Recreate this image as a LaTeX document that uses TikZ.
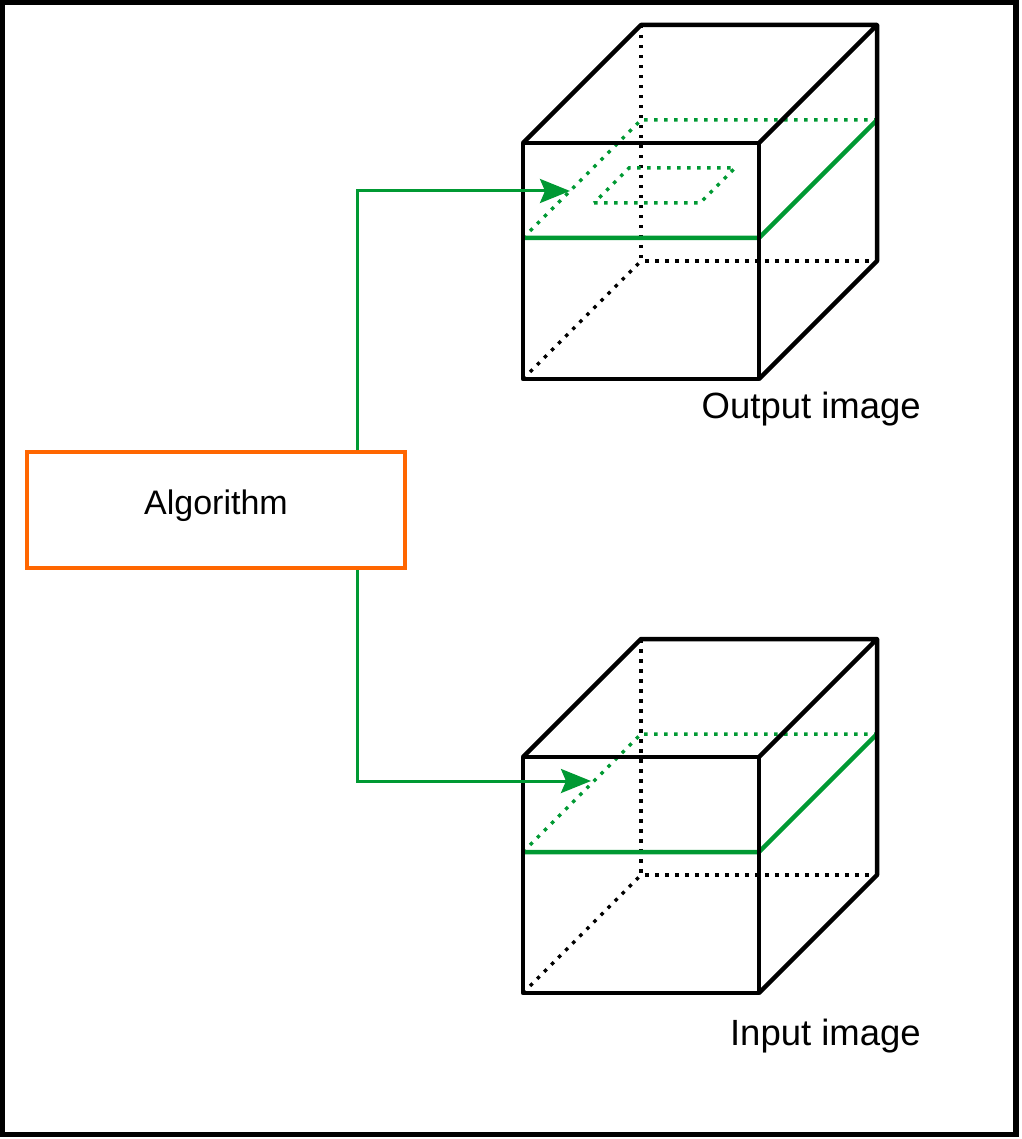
\documentclass[tikz,border=0pt]{standalone}
\usepackage{fontspec}
\setmainfont{Liberation Sans}
\usetikzlibrary{calc,arrows.meta}
\definecolor{sliceGreen}{RGB}{0,153,51}
\definecolor{algoOrange}{RGB}{255,102,0}

\begin{document}
\begin{tikzpicture}[x=1pt,y=-1pt]
            \tikzstyle{cube edge}=[line width=4.5pt, line join=round];
            \tikzstyle{hidden edge}=[line width=3.5pt, dash pattern=on 3.5pt off 6.5pt];
            \tikzstyle{slice}=[line width=4.5pt, sliceGreen];
            \tikzstyle{hidden slice}=[line width=3.5pt, sliceGreen, dash pattern=on 3.5pt off 6.5pt];
            \tikzstyle{flow}=[line width=3pt, sliceGreen, -{Stealth[length=30pt,width=24pt,inset=5pt]}];
            \tikzstyle{algo box}=[draw=algoOrange, line width=3.5pt, minimum width=378pt, minimum height=116pt, inner sep=0, text depth=16pt, font=\fontsize{34pt}{40pt}\selectfont];
            \tikzstyle{image label}=[anchor=base east, inner sep=0, font=\fontsize{36.5pt}{44pt}\selectfont];
            \useasboundingbox (0,0) rectangle (1021,1139);
            \draw[line width=5.5pt] (2.5,2.5) rectangle (1016,1134.5);
            % cubes: out on top, in below
            \foreach \c/\y in {out/0, in/614} {
              \coordinate (\c ftl) at (523,143+\y);
              \coordinate (\c ftr) at (759,143+\y);
              \coordinate (\c fbl) at (523,379+\y);
              \coordinate (\c fbr) at (759,379+\y);
              \coordinate (\c btl) at (641,25+\y);
              \coordinate (\c btr) at (877,25+\y);
              \coordinate (\c bbl) at (641,261+\y);
              \coordinate (\c bbr) at (877,261+\y);
              \coordinate (\c sl) at (523,238+\y);
              \coordinate (\c sr) at (759,238+\y);
              \coordinate (\c sbl) at (641,120+\y);
              \coordinate (\c sbr) at (877,120+\y);
              \draw[hidden edge] (\c btl)--(\c bbl)--(\c bbr);
              \draw[hidden edge] (\c fbl)--(\c bbl);
              \draw[hidden slice] (\c sl)--(\c sbl)--(\c sbr);
              \draw[slice] (\c sl)--(\c sr)--(\c sbr);
              \draw[cube edge] (\c ftl) rectangle (\c fbr);
              \draw[cube edge] (\c ftl)--(\c btl)--(\c btr)--(\c ftr);
              \draw[cube edge] (\c btr)--(\c bbr)--(\c fbr);
            }
            % patch in the output slice
            \draw[hidden slice] (594,203)--(700,203)--(735,168)--(629,168)--cycle;
            \node[algo box] (algo) at (216,510) {Algorithm};
            \coordinate (tap) at (357,0);
            \coordinate (outhit) at (570,191);
            \coordinate (inhit) at (591,781);
            \draw[flow] (algo.north -| tap) |- (outhit);
            \draw[flow] (algo.south -| tap) |- (inhit);
            \node[image label] (outlabel) at (921,418) {Output image};
            \node[image label] (inlabel) at (921,1045) {Input image};
\end{tikzpicture}
\end{document}
